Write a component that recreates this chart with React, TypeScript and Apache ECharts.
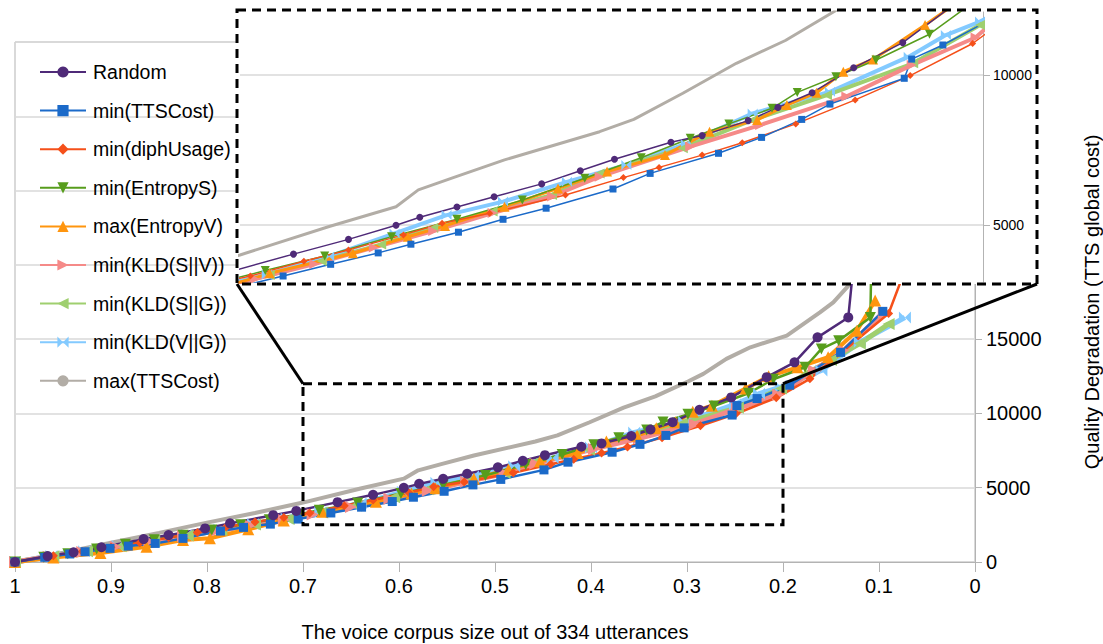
import React, { useEffect, useRef } from 'react';
import * as echarts from 'echarts';

const seriesNames = [
  'Random',
  'min(TTSCost)',
  'min(diphUsage)',
  'min(EntropyS)',
  'max(EntropyV)',
  'min(KLD(S||V))',
  'min(KLD(S||G))',
  'min(KLD(V||G))',
  'max(TTSCost)',
];

const randomData = [[1,0],[0.966,400],[0.939,650],[0.91,990],[0.866,1540],[0.84,1810],[0.802,2260],[0.776,2600],[0.731,3150],[0.707,3440],[0.664,4030],[0.627,4520],[0.595,4990],[0.579,5260],[0.554,5600],[0.529,5940],[0.497,6370],[0.471,6810],[0.448,7190],[0.41,7760],[0.389,7980],[0.358,8480],[0.338,8920],[0.315,9410],[0.287,10240],[0.254,11080],[0.217,12440],[0.188,13440],[0.164,15120],[0.132,16460],[0.125,21000]];
const minTTSCostData = [[1,0],[0.969,315],[0.943,540],[0.927,690],[0.901,920],[0.882,1070],[0.854,1250],[0.825,1590],[0.786,2080],[0.762,2330],[0.734,2550],[0.705,2890],[0.671,3300],[0.639,3690],[0.607,4070],[0.585,4360],[0.553,4760],[0.523,5190],[0.494,5560],[0.449,6200],[0.424,6720],[0.378,7390],[0.349,7920],[0.322,8520],[0.303,9030],[0.253,9890],[0.248,10530],[0.227,11000],[0.193,11900],[0.14,14110],[0.096,16870]];
const minDiphUsageData = [[1,0],[0.96,420],[0.93,700],[0.9,1000],[0.87,1300],[0.84,1640],[0.81,1980],[0.78,2350],[0.75,2700],[0.72,3000],[0.693,3300],[0.657,3790],[0.627,4170],[0.59,4670],[0.564,5060],[0.532,5390],[0.481,6000],[0.442,6580],[0.418,6920],[0.389,7330],[0.362,7740],[0.326,8370],[0.286,9170],[0.249,9980],[0.207,11050],[0.172,12330],[0.09,16730],[0.065,21000]];
const minEntropySData = [[1,0],[0.97,320],[0.945,560],[0.915,870],[0.885,1200],[0.855,1500],[0.825,1800],[0.795,2150],[0.765,2500],[0.735,2850],[0.705,3200],[0.683,3480],[0.643,3970],[0.598,4610],[0.554,5190],[0.51,5830],[0.468,6560],[0.43,7240],[0.397,7890],[0.371,8370],[0.342,8890],[0.325,9420],[0.299,9940],[0.272,10500],[0.236,11360],[0.21,12300],[0.177,13110],[0.16,14340],[0.142,14900],[0.109,16460],[0.107,24000]];
const maxEntropyVData = [[1,0],[0.96,300],[0.911,600],[0.863,1030],[0.825,1480],[0.797,1600],[0.757,2200],[0.72,2800],[0.68,3390],[0.624,4060],[0.587,4610],[0.562,4970],[0.522,5610],[0.486,6220],[0.453,6780],[0.414,7330],[0.384,8110],[0.352,8500],[0.332,9000],[0.312,9410],[0.294,10110],[0.274,10520],[0.239,11670],[0.215,12500],[0.185,13100],[0.153,13780],[0.123,15570],[0.104,17600]];
const minKldSVData = [[1,0],[0.965,360],[0.93,680],[0.895,1020],[0.86,1380],[0.825,1740],[0.79,2100],[0.755,2460],[0.72,2830],[0.69,3200],[0.65,3700],[0.61,4250],[0.57,4800],[0.53,5400],[0.49,5950],[0.458,6610],[0.397,7610],[0.35,8330],[0.292,9280],[0.248,10330],[0.205,11250],[0.168,12890],[0.137,14230],[0.095,16800]];
const minKldSGData = [[1,0],[0.96,380],[0.925,720],[0.89,1060],[0.855,1420],[0.82,1780],[0.785,2150],[0.75,2520],[0.715,2900],[0.68,3330],[0.645,3800],[0.605,4350],[0.57,4900],[0.53,5450],[0.49,6000],[0.458,6720],[0.402,7560],[0.355,8500],[0.305,9330],[0.247,10390],[0.202,11670],[0.175,12700],[0.15,13600],[0.12,14700],[0.09,16020]];
const minKldVGData = [[1,0],[0.962,400],[0.928,730],[0.893,1080],[0.858,1450],[0.822,1820],[0.787,2190],[0.752,2560],[0.717,2930],[0.682,3350],[0.64,3950],[0.596,4720],[0.561,5330],[0.523,5780],[0.48,6440],[0.44,7000],[0.4,7700],[0.355,8720],[0.303,9440],[0.25,10610],[0.225,11330],[0.202,11780],[0.16,12890],[0.12,14800],[0.073,16460]];
const maxTTSCostData = [[1,0],[0.95,620],[0.9,1300],[0.85,1960],[0.8,2650],[0.75,3300],[0.7,4000],[0.64,4950],[0.595,5610],[0.58,6170],[0.556,6590],[0.522,7170],[0.458,8110],[0.435,8520],[0.402,9390],[0.366,10390],[0.333,11150],[0.299,12150],[0.283,12660],[0.259,13670],[0.234,14450],[0.196,15235],[0.1615,16800],[0.1476,17470],[0.132,18590],[0.12,20500]];

const yTickLabels = [0, 5000, 10000, 15000];
const insetTickLabels = [5000, 10000];

const seriesData = [randomData, minTTSCostData, minDiphUsageData, minEntropySData, maxEntropyVData, minKldSVData, minKldSGData, minKldVGData, maxTTSCostData];

const bowtie = 'path://M0,0L5,5L0,10ZM10,0L5,5L10,10Z';

const styles = [
  { color: '#4f2a78', symbol: 'circle', rotate: 0, size: [10, 7], width: [2.5, 1.5] },
  { color: '#1b6ac9', symbol: 'rect', rotate: 0, size: [9, 7], width: [2.5, 1.5] },
  { color: '#f5501a', symbol: 'diamond', rotate: 0, size: [9, 7], width: [2.5, 1.5] },
  { color: '#579d1c', symbol: 'triangle', rotate: 180, size: [11, 9], width: [2.5, 1.5] },
  { color: '#ff950e', symbol: 'triangle', rotate: 0, size: [12, 10], width: [4, 3] },
  { color: '#f58a88', symbol: 'triangle', rotate: -90, size: [12, 10], width: [5, 4] },
  { color: '#9fcf6f', symbol: 'triangle', rotate: 90, size: [12, 10], width: [5, 4] },
  { color: '#83caff', symbol: bowtie, rotate: 0, size: [12, 10], width: [5, 4] },
  { color: '#b2ada6', symbol: 'none', rotate: 0, size: [0, 0], width: [4, 3] },
];

const FONT = 'Liberation Sans';

export default function App() {
  const ref = useRef<HTMLDivElement>(null);
  useEffect(() => {
    document.body.style.margin = '0';
    const chart = echarts.init(ref.current!, null, { renderer: 'svg' });

    const mainSeries: any[] = [];
    const insetSeries: any[] = [];
    for (let i = seriesNames.length - 1; i >= 0; i--) {
      const st = styles[i];
      const base = {
        type: 'line',
        name: seriesNames[i],
        data: seriesData[i],
        symbol: st.symbol,
        symbolRotate: st.rotate,
        showSymbol: st.symbol !== 'none',
        color: st.color,
        itemStyle: { color: st.color },
        silent: true,
        clip: true,
      };
      const m: any = {
        ...base,
        xAxisIndex: 0,
        yAxisIndex: 0,
        symbolSize: st.size[0],
        lineStyle: { width: st.width[0], color: st.color },
        z: 2,
      };
      if (i === 0) {
        m.markArea = {
          silent: true,
          z: 10,
          itemStyle: { color: 'rgba(0,0,0,0)', borderColor: '#000', borderWidth: 3, borderType: [9, 6] },
          data: [[{ coord: [0.7, 12000] }, { coord: [0.2, 2500] }]],
        };
        m.markLine = {
          silent: true,
          z: 100,
          symbol: ['none', 'none'],
          label: { show: false },
          lineStyle: { color: '#000', width: 3, type: 'solid' },
          data: [
            [{ coord: [0.7, 12000] }, { x: 237, y: 284 }],
            [{ coord: [0.2, 12000] }, { x: 1037, y: 284 }],
          ],
        };
      }
      mainSeries.push(m);
      insetSeries.push({
        ...base,
        xAxisIndex: 1,
        yAxisIndex: 1,
        symbolSize: st.size[1],
        lineStyle: { width: st.width[1], color: st.color },
        z: 60,
      });
    }

    const option: any = {
      animation: false,
      textStyle: { fontFamily: FONT },
      legend: {
        data: seriesNames,
        orient: 'vertical',
        left: 39,
        top: 62,
        itemWidth: 46,
        itemHeight: 14,
        itemGap: 18.6,
        padding: 0,
        selectedMode: false,
        textStyle: { fontSize: 19.5, color: '#000', fontFamily: FONT, padding: [0, 0, 0, 2] },
      },
      grid: [
        { left: 15, right: 128, top: 42, bottom: 82, outerBoundsMode: 'none', containLabel: false, show: true, borderColor: '#b3b3b3', borderWidth: 1, backgroundColor: 'transparent' },
        { left: 240, right: 120, top: 12, bottom: 362, outerBoundsMode: 'none', containLabel: false },
      ],
      xAxis: [
        {
          type: 'value', gridIndex: 0, min: 0, max: 1, interval: 0.1, inverse: true,
          axisLine: { show: true, lineStyle: { color: '#b3b3b3', width: 1 } },
          axisTick: { show: true, length: 10, lineStyle: { color: '#b3b3b3' } },
          axisLabel: { fontSize: 20, margin: 14, color: '#000', fontFamily: FONT, formatter: (v: number) => String(+v.toFixed(1)) },
          splitLine: { show: false },
          name: 'The voice corpus size out of 334 utterances',
          nameLocation: 'middle', nameGap: 60,
          nameTextStyle: { fontSize: 20, color: '#000', fontFamily: FONT },
        },
        { type: 'value', gridIndex: 1, min: 0.2, max: 0.7, inverse: true, show: false },
      ],
      yAxis: [
        {
          type: 'value', gridIndex: 0, position: 'right', min: 0, max: 35000, interval: 5000,
          axisLine: { show: true, lineStyle: { color: '#b3b3b3', width: 1 } },
          axisTick: { show: true, length: 7, lineStyle: { color: '#b3b3b3' } },
          axisLabel: {
            fontSize: 20, margin: 11, color: '#000', fontFamily: FONT,
            formatter: (v: number) => (yTickLabels.indexOf(v) >= 0 ? String(v) : ''),
          },
          splitLine: { show: true, lineStyle: { color: '#d9d9d9', width: 1.5 } },
          name: 'Quality Degradation (TTS global cost)',
          nameLocation: 'middle', nameRotate: 90, nameGap: 107,
          nameTextStyle: { fontSize: 20, color: '#000', fontFamily: FONT },
        },
        {
          type: 'value', gridIndex: 1, position: 'right', min: 3100, max: 12100, z: 60,
          axisLine: { show: true, lineStyle: { color: '#b3b3b3', width: 1 } },
          axisTick: { show: true, length: 7, customValues: insetTickLabels, lineStyle: { color: '#b3b3b3' } },
          axisLabel: { fontSize: 14, margin: 10, color: '#000', fontFamily: FONT, customValues: insetTickLabels, formatter: (v: number) => String(v) },
          splitLine: { show: true, lineStyle: { color: '#d9d9d9', width: 1.5 } },
        },
      ],
      graphic: [
        { type: 'rect', z: 50, silent: true, shape: { x: 237, y: 10, width: 800, height: 274 }, style: { fill: '#fff', stroke: 'none' } },
        { type: 'rect', z: 100, silent: true, shape: { x: 237, y: 10, width: 800, height: 274 }, style: { fill: 'none', stroke: '#000', lineWidth: 3, lineDash: [9, 6] } },
      ],
      series: [...mainSeries, ...insetSeries],
    };
    chart.setOption(option);
    return () => chart.dispose();
  }, []);
  return <div ref={ref} style={{ width: 1103, height: 644 }} />;
}
